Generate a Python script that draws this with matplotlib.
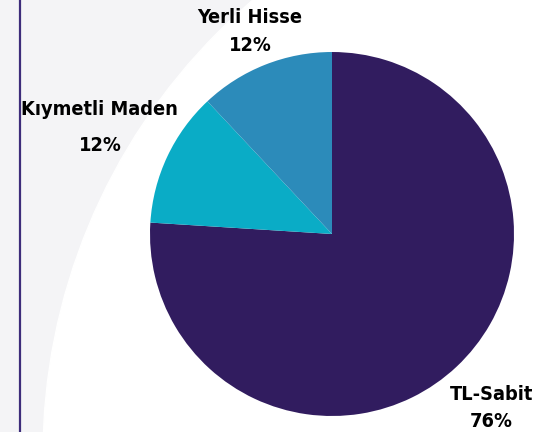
import matplotlib
matplotlib.use("Agg")
import matplotlib.pyplot as plt
from matplotlib.patches import Circle, Rectangle

# Portfolio allocation (percent)
labels = ["TL-Sabit", "Kıymetli Maden", "Yerli Hisse"]
shares = [76, 12, 12]
colors = ["#311c5f", "#0aacc6", "#2c8bba"]

# label text lines: (name, percent text), positions in pie-radius units
label_pos = {
    "TL-Sabit": ((0.876, -0.912), (0.876, -1.060)),
    "Kıymetli Maden": ((-1.277, 0.654), (-1.275, 0.456)),
    "Yerli Hisse": ((-0.450, 1.157), (-0.450, 1.005)),
}

W, H, DPI = 554, 432, 100
fig = plt.figure(figsize=(W / DPI, H / DPI), dpi=DPI)
fig.patch.set_facecolor("white")
ax = fig.add_axes([0, 0, 1, 1])

# pie centre at pixel (332, 234), radius 182 px -> 1 data unit
cx, cy, rp = 332, 234, 182
ax.set_xlim((0 - cx) / rp, (W - cx) / rp)
ax.set_ylim((cy - H) / rp, (cy - 0) / rp)
ax.set_aspect("equal")
ax.axis("off")

# background: light grey with a large white arc sweeping from lower left
ax.add_patch(Rectangle((-5, -5), 10, 10, color="#f4f4f6", zorder=0))
ax.add_patch(Circle(((641 - cx) / rp, (cy - 455) / rp), 598 / rp,
                    color="white", zorder=0.5))
ax.axvline((20 - cx) / rp, color="#3d2c7a", linewidth=1.6, zorder=1)

ax.pie(shares, colors=colors, startangle=90, counterclock=False,
       radius=1, center=(0, 0), wedgeprops=dict(linewidth=0),
       frame=True)
ax.set_xlim((0 - cx) / rp, (W - cx) / rp)
ax.set_ylim((cy - H) / rp, (cy - 0) / rp)
ax.axis("off")

font = "DejaVu Sans"
for name, share in zip(labels, shares):
    (x1, y1), (x2, y2) = label_pos[name]
    ax.text(x1, y1, name, ha="center", va="baseline", fontsize=14.3,
            fontweight="bold", fontstretch="condensed", family=font,
            color="black", zorder=5)
    ax.text(x2, y2, f"{share}%", ha="center", va="baseline", fontsize=14.3,
            fontweight="bold", fontstretch="condensed", family=font,
            color="black", zorder=5)

fig.savefig("out.png", dpi=DPI)
